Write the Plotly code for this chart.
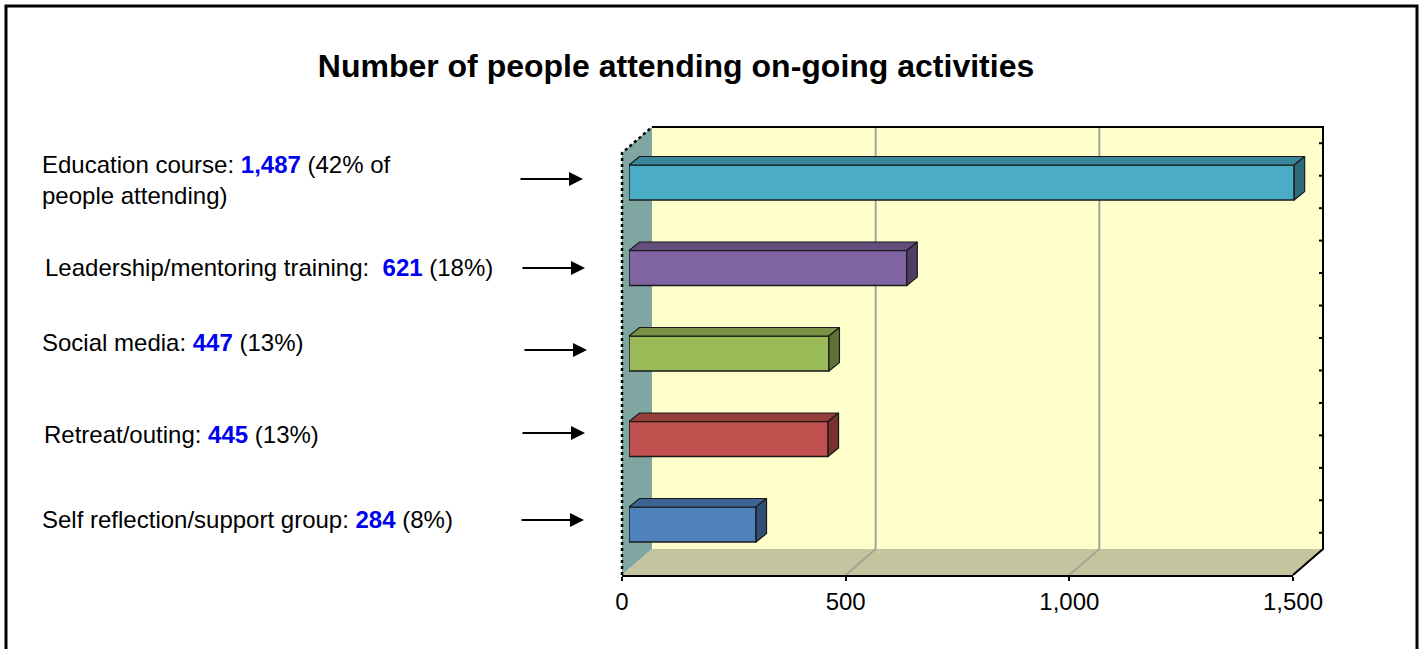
import plotly.graph_objects as go

# ---------------- data ----------------
categories = ["Education course", "Leadership/mentoring training", "Social media",
              "Retreat/outing", "Self reflection/support group"]
values = [1487, 621, 447, 445, 284]
percent_labels = ["(42% of<br>people attending)", "(18%)", "(13%)", "(13%)", "(8%)"]
separators = [": ", ":  ", ": ", ": ", ": "]
bar_colors = ["#4BACC6", "#8064A2", "#9BBB59", "#C0504D", "#4F81BD"]
x_ticks = [0, 500, 1000, 1500]
title_text = "Number of people attending on-going activities"

# ---------------- geometry helpers (pixels -> paper) ----------------
W, H = 1421, 649
def PX(p):
    return p / W
def PY(p):
    return 1 - p / H

FONT = "Liberation Sans, Arial, sans-serif"

# front plane of the 3-D box (value axis)
F_X0, F_X1 = 622, 1293          # 0 .. 1500
F_Y0, F_Y1 = 153, 575           # top .. bottom of front plane
DX, DY = 30, -26                # depth offset of back wall
scale = (F_X1 - F_X0) / 1500.0  # pixels per unit
def FX(v):
    return F_X0 + v * scale

# bar plane
B_X0 = 629
B_XMAX = 1600
B_Y0, B_Y1 = 139.75, 567.25
cat_px = (B_Y1 - B_Y0) / len(categories)
bar_w = 35 / cat_px
ddx = 10.5 / scale              # bar depth in data units
ddy = 8.5 / cat_px

def shade(hexcol, f):
    h = hexcol.lstrip("#")
    r, g, b = int(h[0:2], 16), int(h[2:4], 16), int(h[4:6], 16)
    return "rgb(%d,%d,%d)" % (r * f, g * f, b * f)

fig = go.Figure()

pos = list(range(len(categories)))
fig.add_trace(go.Bar(
    x=values, y=pos, orientation="h", width=bar_w,
    marker=dict(color=bar_colors, line=dict(color="#1a1a1a", width=1.5)),
    text=categories, hoverinfo="x+text", textposition="none",
    xaxis="x", yaxis="y", showlegend=False,
))

# 3-D top and side faces of the bars
for i, (v, c) in enumerate(zip(values, bar_colors)):
    top = pos[i] - bar_w / 2
    bot = pos[i] + bar_w / 2
    fig.add_trace(go.Scatter(
        x=[0, ddx, v + ddx, v, 0], y=[top, top - ddy, top - ddy, top, top],
        fill="toself", fillcolor=shade(c, 0.78), mode="lines",
        line=dict(color="#1a1a1a", width=1.2), hoverinfo="skip",
        xaxis="x", yaxis="y", showlegend=False))
    fig.add_trace(go.Scatter(
        x=[v, v + ddx, v + ddx, v, v], y=[top, top - ddy, bot - ddy, bot, top],
        fill="toself", fillcolor=shade(c, 0.62), mode="lines",
        line=dict(color="#1a1a1a", width=1.2), hoverinfo="skip",
        xaxis="x", yaxis="y", showlegend=False))

# invisible trace to host the front value axis
fig.add_trace(go.Scatter(x=[x_ticks[0], x_ticks[-1]], y=[0, 0], mode="markers",
                         marker=dict(opacity=0), hoverinfo="skip",
                         xaxis="x2", yaxis="y2", showlegend=False))

shapes = []
# back wall
shapes.append(dict(type="rect", xref="paper", yref="paper", layer="below",
                   x0=PX(F_X0 + DX), x1=PX(F_X1 + DX), y0=PY(F_Y1 + DY), y1=PY(F_Y0 + DY),
                   fillcolor="#FFFFCC", line=dict(width=0)))
# left wall
shapes.append(dict(type="path", xref="paper", yref="paper", layer="below",
                   path="M %f %f L %f %f L %f %f L %f %f Z" % (
                       PX(F_X0), PY(F_Y0), PX(F_X0 + DX), PY(F_Y0 + DY),
                       PX(F_X0 + DX), PY(F_Y1 + DY), PX(F_X0), PY(F_Y1)),
                   fillcolor="rgb(128,166,162)", line=dict(width=0)))
# floor
shapes.append(dict(type="path", xref="paper", yref="paper", layer="below",
                   path="M %f %f L %f %f L %f %f L %f %f Z" % (
                       PX(F_X0), PY(F_Y1), PX(F_X0 + DX), PY(F_Y1 + DY),
                       PX(F_X1 + DX), PY(F_Y1 + DY), PX(F_X1), PY(F_Y1)),
                   fillcolor="rgb(196,196,158)", line=dict(width=0)))
# gridlines on back wall and floor
for t in x_ticks[1:-1]:
    shapes.append(dict(type="path", xref="paper", yref="paper", layer="below",
                       path="M %f %f L %f %f L %f %f" % (
                           PX(FX(t) + DX), PY(F_Y0 + DY), PX(FX(t) + DX), PY(F_Y1 + DY),
                           PX(FX(t)), PY(F_Y1)),
                       line=dict(color="rgb(165,165,150)", width=2)))
# top edge and right edge of the box
shapes.append(dict(type="path", xref="paper", yref="paper", layer="below",
                   path="M %f %f L %f %f L %f %f L %f %f" % (
                       PX(F_X0 + DX), PY(F_Y0 + DY), PX(F_X1 + DX), PY(F_Y0 + DY),
                       PX(F_X1 + DX), PY(F_Y1 + DY), PX(F_X1), PY(F_Y1)),
                   line=dict(color="black", width=2)))
# small ticks on right edge
n_rt = 13
for k in range(n_rt):
    yy = F_Y0 + DY + (k + 0.5) * (F_Y1 - F_Y0) / n_rt
    shapes.append(dict(type="line", xref="paper", yref="paper", layer="below",
                       x0=PX(F_X1 + DX - 4), x1=PX(F_X1 + DX), y0=PY(yy), y1=PY(yy),
                       line=dict(color="black", width=2)))
# dotted front-left edge
shapes.append(dict(type="path", xref="paper", yref="paper", layer="above",
                   path="M %f %f L %f %f L %f %f" % (
                       PX(F_X0), PY(F_Y1), PX(F_X0), PY(F_Y0), PX(F_X0 + DX), PY(F_Y0 + DY)),
                   line=dict(color="black", width=2.5, dash="dot")))
# outer border
shapes.append(dict(type="rect", xref="paper", yref="paper", layer="above",
                   x0=PX(6), x1=PX(1417), y0=PY(665), y1=PY(6),
                   line=dict(color="black", width=3), fillcolor="rgba(0,0,0,0)"))

annotations = []
label_x = [40, 43, 40, 42, 40]
label_y = [180, 268, 342, 434, 519]
arrow_y = [179, 268, 350, 433, 520]
arrow_x = [583, 585, 587, 585, 584]
for i, name in enumerate(categories):
    txt = "%s%s<span style='color:#0000F0'><b>%s</b></span> %s" % (
        name, separators[i], format(values[i], ","), percent_labels[i])
    annotations.append(dict(text=txt, xref="paper", yref="paper",
                            x=PX(label_x[i]), y=PY(label_y[i]),
                            xanchor="left", yanchor="middle", align="left",
                            showarrow=False, font=dict(family=FONT, size=24, color="black")))
    annotations.append(dict(text="", xref="paper", yref="paper",
                            x=PX(arrow_x[i]), y=PY(arrow_y[i]), ax=-64, ay=0,
                            showarrow=True, arrowhead=2, arrowsize=1.4, arrowwidth=2,
                            arrowcolor="black"))

fig.update_layout(
    width=W, height=H, autosize=False,
    margin=dict(l=0, r=0, t=0, b=0, pad=0, autoexpand=False),
    paper_bgcolor="white", plot_bgcolor="rgba(0,0,0,0)",
    font=dict(family=FONT, color="black"),
    title=dict(text="<b>%s</b>" % title_text, x=PX(676), y=PY(66),
               xref="paper", yref="paper", xanchor="center", yanchor="middle",
               font=dict(family=FONT, size=32, color="black")),
    xaxis=dict(domain=[PX(B_X0), PX(B_X0 + B_XMAX * scale)], range=[0, B_XMAX],
               visible=False, fixedrange=True, automargin=False),
    yaxis=dict(domain=[PY(B_Y1), PY(B_Y0)], range=[len(categories) - 0.5, -0.5],
               visible=False, fixedrange=True, automargin=False),
    xaxis2=dict(domain=[PX(F_X0), PX(F_X1)], range=[x_ticks[0], x_ticks[-1]], anchor="y2",
                tickvals=x_ticks, tickformat=",", showline=True, linecolor="black",
                linewidth=2, ticks="outside", ticklen=4, tickwidth=2, tickcolor="black",
                showgrid=False, zeroline=False, tickfont=dict(family=FONT, size=24, color="black"),
                ticklabelstandoff=0, fixedrange=True, automargin=False),
    yaxis2=dict(domain=[PY(F_Y1), PY(F_Y0)], range=[0, 1], anchor="x2", visible=False,
                fixedrange=True, automargin=False),
    shapes=shapes, annotations=annotations, showlegend=False,
)

fig.write_html("out.html", config={"responsive": False, "displayModeBar": False},
               post_script="document.body.style.margin='0';document.body.style.overflow='hidden';")
